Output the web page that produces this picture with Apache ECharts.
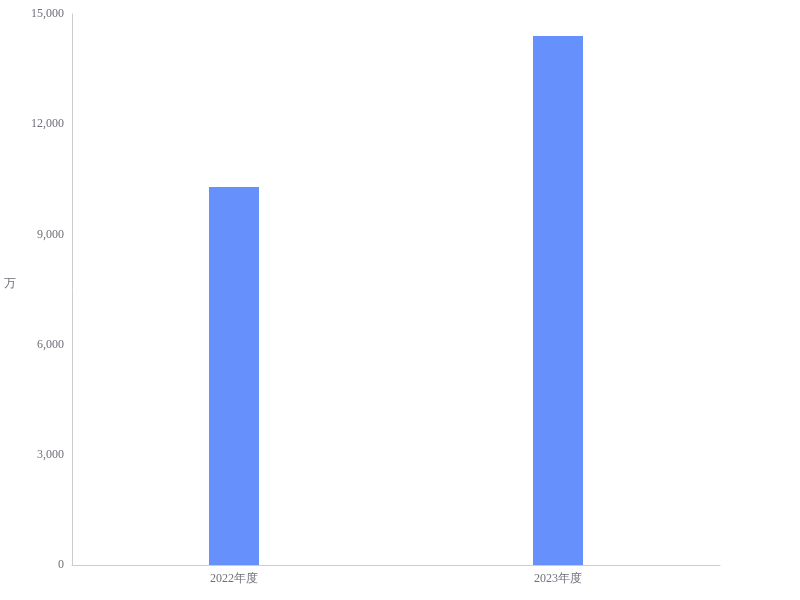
<!DOCTYPE html>
<html><head><meta charset="utf-8">
<script src="https://cdn.jsdelivr.net/npm/echarts@6/dist/echarts.min.js"></script>
<style>html,body{margin:0;padding:0;background:#fff}#c{width:800px;height:600px}</style>
</head><body><div id="c"></div>
<script>
const categories = ['2022年度', '2023年度'];
const values = [10290, 14400];
const yTicks = { min: 0, max: 15000, interval: 3000 };
const unitName = '万';

const chart = echarts.init(document.getElementById('c'));
chart.setOption({
  animation: false,
  textStyle: { fontFamily: 'serif' },
  grid: { left: 72, right: 80, top: 14, bottom: 35, containLabel: false, outerBoundsMode: 'none' },
  xAxis: {
    type: 'category',
    data: categories,
    axisLine: { lineStyle: { color: '#ccc' } },
    axisTick: { alignWithLabel: true, lineStyle: { color: '#ccc' } },
    axisLabel: { color: '#6e7079', fontSize: 12, fontFamily: 'serif' }
  },
  yAxis: {
    type: 'value',
    min: yTicks.min, max: yTicks.max, interval: yTicks.interval,
    name: unitName,
    nameLocation: 'middle',
    nameRotate: 0,
    nameGap: 56,
    nameTextStyle: { color: '#6e7079', fontSize: 12, fontFamily: 'serif', verticalAlign: 'bottom' },
    axisLine: { show: true, lineStyle: { color: '#ccc' } },
    axisTick: { show: false },
    splitLine: { show: false },
    axisLabel: { color: '#6e7079', fontSize: 12, fontFamily: 'serif',
      formatter: v => v.toLocaleString('en-US') }
  },
  series: [{
    type: 'bar',
    data: values,
    barWidth: 50,
    itemStyle: { color: '#6691fc' }
  }]
});
</script></body></html>
